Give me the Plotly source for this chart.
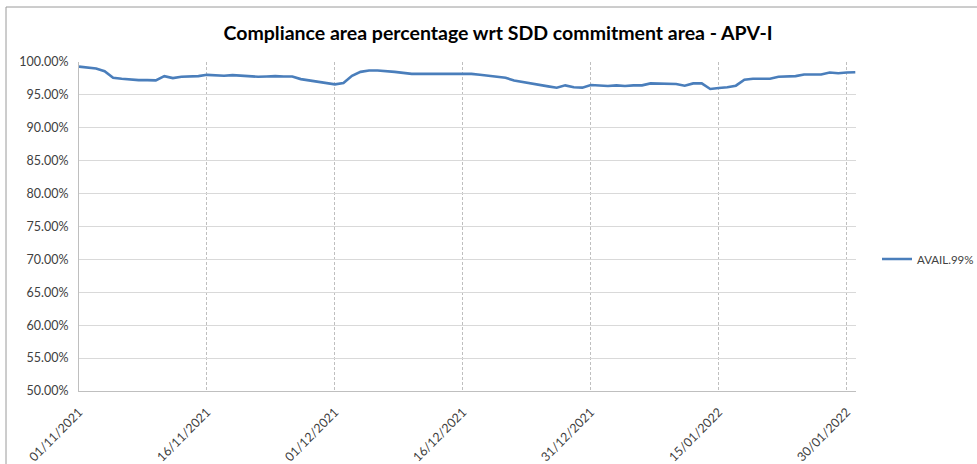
import plotly.graph_objects as go
import pandas as pd

start_date = "2021-11-01"
n_days = 92
avail_values = [
    99.3, 99.2, 99.0, 98.6, 97.6, 97.45, 97.3, 97.25, 97.25, 97.2,
    97.85, 97.55, 97.75, 97.8, 97.85, 98.05, 97.95, 97.9, 98.0, 97.9,
    97.8, 97.75, 97.8, 97.86, 97.8, 97.8, 97.4, 97.2, 97.1, 96.9,
    96.6, 96.8, 97.9, 98.5, 98.7, 98.7, 98.65, 98.5, 98.35, 98.2,
    98.2, 98.2, 98.2, 98.2, 98.25, 98.3, 98.2, 98.05, 97.9, 97.7,
    97.6, 97.2, 96.95, 96.75, 96.55, 96.3, 96.1, 96.45, 96.15, 96.1,
    96.5, 96.4, 96.35, 96.45, 96.35, 96.45, 96.45, 96.75, 96.75, 96.65,
    96.65, 96.4, 96.75, 96.75, 95.9, 96.05, 96.15, 96.4, 97.3, 97.45,
    97.5, 97.45, 97.75, 97.8, 97.85, 98.1, 98.15, 98.1, 98.4, 98.3,
    98.4, 98.45,
]
series_name = "AVAIL.99%"
title_text = "Compliance area percentage wrt SDD commitment area - APV-I"
y_ticks = [50, 55, 60, 65, 70, 75, 80, 85, 90, 95, 100]
y_tick_labels = ["%.2f%%" % v for v in y_ticks]

dates = pd.date_range(start_date, periods=n_days, freq="D")

fig = go.Figure()
fig.add_trace(go.Scatter(
    x=dates, y=avail_values, mode="lines", name=series_name,
    line=dict(color="#4A7EBB", width=2.6),
))

W, H = 977, 464
L, R, T, B = 79, 856, 62, 391
pw, ph = R - L, B - T

fig.update_layout(
    width=W, height=H,
    margin=dict(l=L, r=W - R, t=T, b=H - B, autoexpand=False),
    paper_bgcolor="white", plot_bgcolor="white",
    font=dict(family="Lato, Open Sans, sans-serif", color="#404040", size=12.5),
    title=dict(text="<b>" + title_text + "</b>", x=498 / W, xanchor="center",
               y=1 - 33 / H, yanchor="middle",
               font=dict(size=19.5, color="#000000", family="Lato, sans-serif")),
    showlegend=True,
    legend=dict(x=(877 - L) / pw, y=(B - 259) / ph, xanchor="left", yanchor="middle",
                font=dict(size=11.5, color="#404040"), bgcolor="rgba(0,0,0,0)",
                itemwidth=30),
    xaxis=dict(
        type="date", automargin=False,
        range=[dates[0], dates[-1] + pd.Timedelta(hours=2)],
        tick0=start_date, dtick=15 * 86400000,
        tickformat="%d/%m/%Y", tickangle=-45,
        showgrid=True, gridcolor="#BFBFBF", griddash="3px,2px", gridwidth=1,
        showline=True, linecolor="#BFBFBF", linewidth=1,
        ticks="", zeroline=False, ticklabelstandoff=8,
        tickfont=dict(size=12.5, color="#404040"),
    ),
    yaxis=dict(
        range=[50, 100], tickvals=y_ticks, ticktext=y_tick_labels, automargin=False,
        showgrid=True, gridcolor="#D9D9D9", gridwidth=1,
        showline=True, linecolor="#BFBFBF", linewidth=1,
        ticks="", zeroline=False, ticklabelstandoff=7,
        tickfont=dict(size=12.5, color="#404040"),
    ),
)

fig.add_shape(type="rect", xref="paper", yref="paper",
              x0=(6 - L) / pw, x1=(W + 2 - L) / pw,
              y0=(B - (H + 2)) / ph, y1=(B - 7) / ph,
              line=dict(color="#9A9A9A", width=1), layer="below")

fig.write_html("out.html", config={"displayModeBar": False},
               post_script="document.body.style.margin='0';")
